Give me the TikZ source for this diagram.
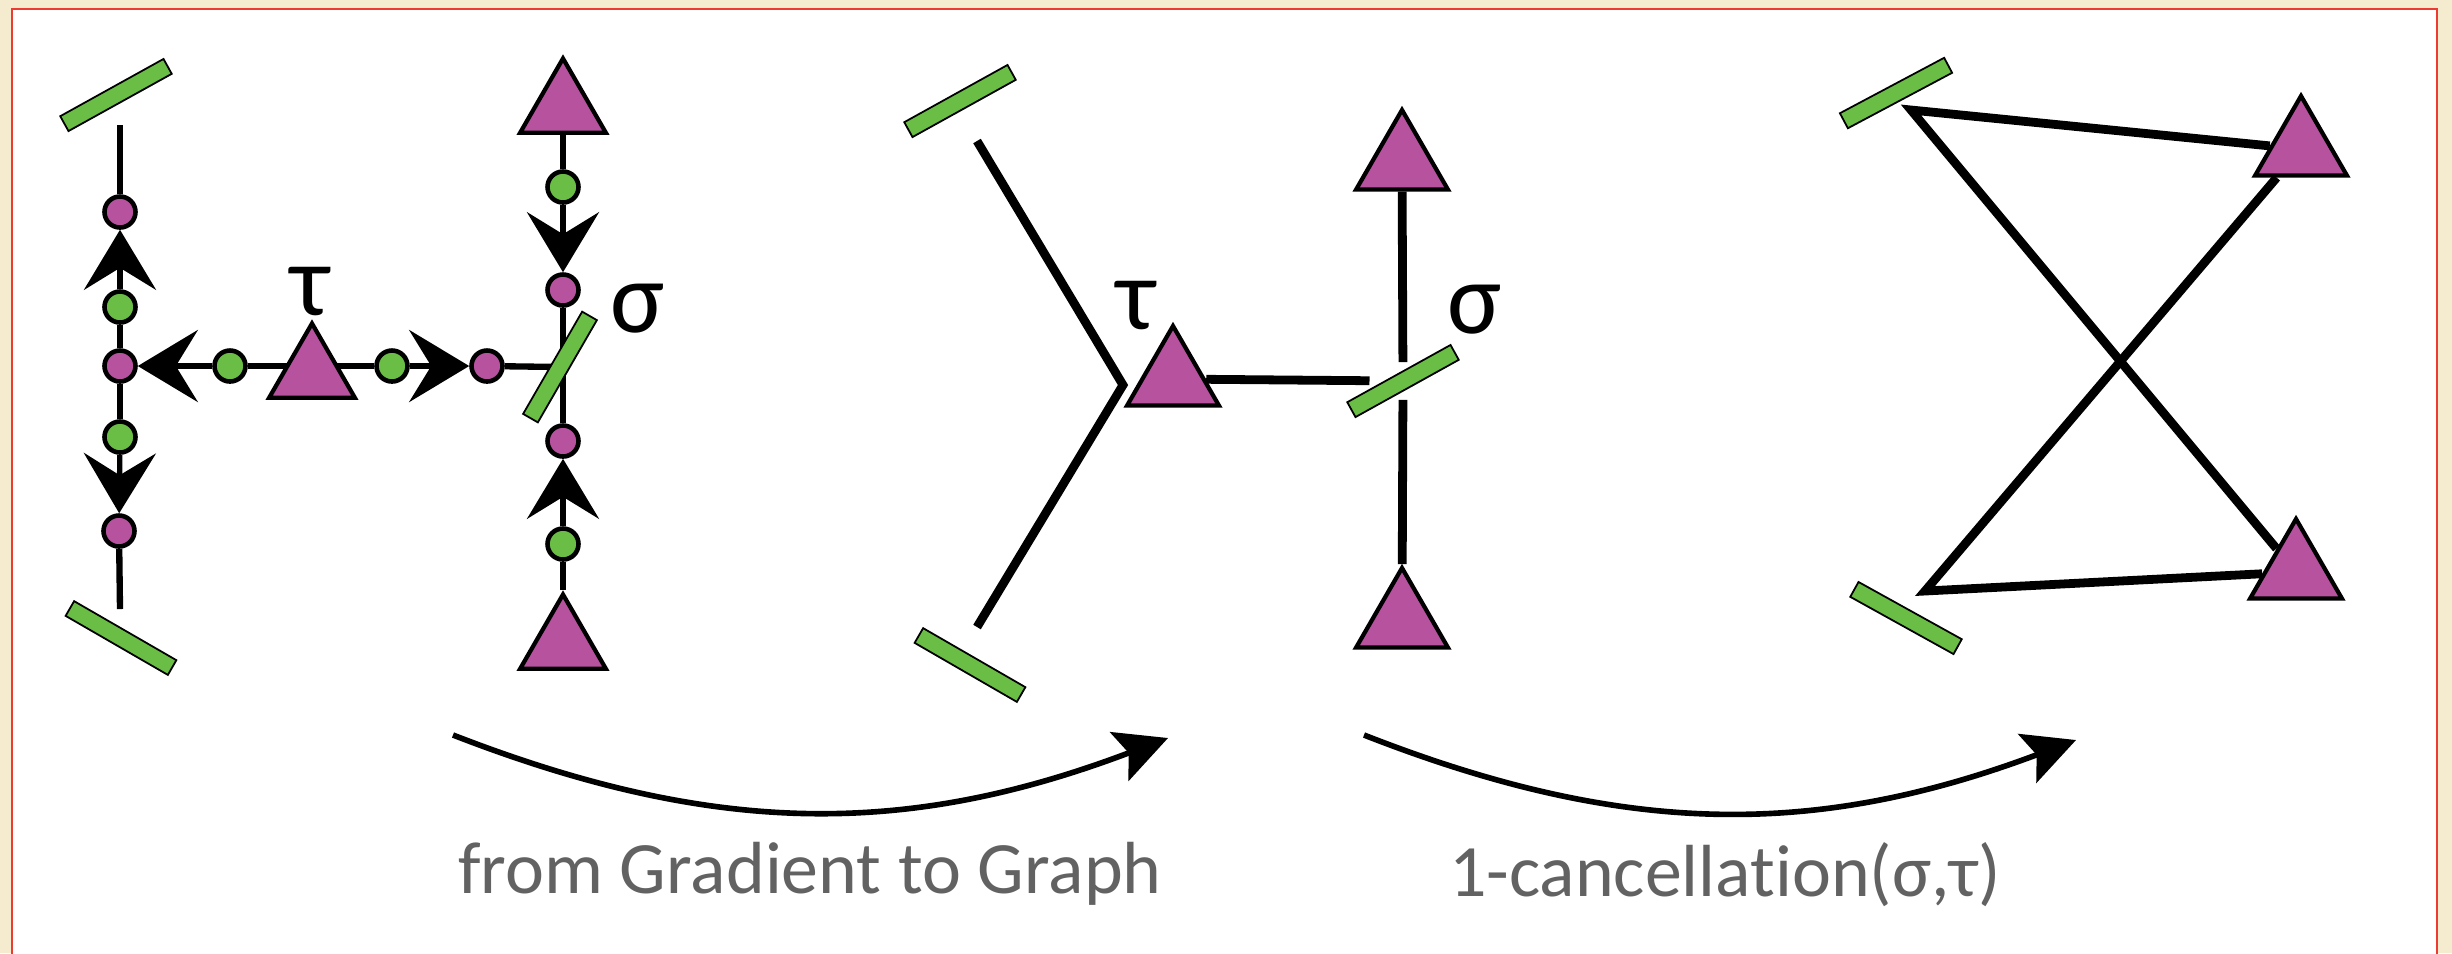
\documentclass[tikz,border=0pt]{standalone}
\usepackage{fontspec}
\setmainfont{Carlito}[Ligatures=NoCommon]
\usetikzlibrary{arrows.meta, shapes.geometric, backgrounds}
\definecolor{critgreen}{RGB}{106,189,69}
\definecolor{critpink}{RGB}{182,82,158}
\definecolor{paper}{RGB}{245,236,207}
\definecolor{framered}{RGB}{236,60,50}
\definecolor{capgray}{RGB}{98,98,98}
\tikzstyle{link}=[line width=1.8pt]
\tikzstyle{glink}=[line width=2.5pt]
\tikzstyle{grad}=[line width=1.5pt, -{Stealth[length=0.6cm, width=0.72cm, inset=0.22cm]}]
\tikzstyle{move}=[line width=1.6pt, -{Stealth[length=0.52cm, width=0.52cm, inset=0.1cm]}]
\tikzstyle{saddle}=[rectangle, fill=critgreen, draw=black, line width=0.5pt, minimum width=1.18cm, minimum height=0.17cm, inner sep=0pt]
\tikzstyle{maxi}=[regular polygon, regular polygon sides=3, fill=critpink, draw=black, line width=1.2pt, inner sep=0pt, minimum size=0.99cm]
\tikzstyle{bigmaxi}=[maxi, minimum size=1.06cm]
\tikzstyle{vdot}=[circle, fill=critpink, draw=black, line width=1.3pt, minimum size=0.31cm, inner sep=0pt]
\tikzstyle{edot}=[circle, fill=critgreen, draw=black, line width=1.3pt, minimum size=0.31cm, inner sep=0pt]
\tikzstyle{cell}=[inner sep=0pt, font=\fontsize{29}{29}\selectfont]
\tikzstyle{captext}=[inner sep=0pt, anchor=base, text=capgray, font=\fontsize{21}{21}\selectfont]

\begin{document}
\begin{tikzpicture}[x=0.01cm, y=-0.01cm]
	\useasboundingbox (0,0) rectangle (2452,953);
	\begin{scope}[on background layer]
		\fill[paper] (0,0) rectangle (2452,953);
		\filldraw[fill=white, draw=framered, line width=0.6pt] (12,9) rectangle (2437,990);
	\end{scope}
	\foreach \n/\x/\y in {m1/120/212, m2/120/366, m3/119/531, m4/487/366, m5/563/290, m6/563/441}{
		\node[vdot] (\n) at (\x,\y) {};
	}
	\foreach \n/\x/\y in {g1/120/307, g2/120/437, g3/230/366, g4/392/366, g5/563/187, g6/563/544}{
		\node[edot] (\n) at (\x,\y) {};
	}
	\node[saddle, rotate=29] (s1) at (116,95) {};
	\node[saddle, rotate=-30] (s2) at (121,638) {};
	\node[saddle, rotate=60] (s3) at (560,367) {};
	\node[maxi] (t1) at (312,373) {};
	\node[maxi] (t2) at (563,108) {};
	\node[maxi] (t3) at (563,644) {};
	\coordinate (v1) at (120,125);
	\coordinate (v2) at (120,609);
	\node[cell] (tau1) at (310,292) {τ};
	\node[cell] (sigma1) at (638,309) {σ};

	\node[saddle, rotate=29] (s4) at (960,101) {};
	\node[saddle, rotate=-30] (s5) at (970,665) {};
	\node[saddle, rotate=29, outer sep=0.08cm] (s6) at (1403,381) {};
	\node[bigmaxi] (t4) at (1173,379) {};
	\node[bigmaxi] (t5) at (1402,163) {};
	\node[bigmaxi] (t6) at (1402,621) {};
	\coordinate (w1) at (977,141);
	\coordinate (w2) at (1123,385);
	\coordinate (w3) at (977,627);
	\node[cell] (tau2) at (1136,306) {τ};
	\node[cell] (sigma2) at (1475,310) {σ};

	\node[saddle, rotate=28] (s7) at (1896,93) {};
	\node[saddle, rotate=-29] (s8) at (1906,618) {};
	\node[bigmaxi] (t7) at (2301,149) {};
	\node[bigmaxi] (t8) at (2296,572) {};
	\coordinate (u1) at (1911,110);
	\coordinate (u2) at (1925,591);

	\coordinate (a1) at (453,735);
	\coordinate (a2) at (1168,738);
	\coordinate (a3) at (1364,735);
	\coordinate (a4) at (2076,740);
	\node[captext] (cap1) at (810,893) {from Gradient to Graph};
	\node[captext] (cap2) at (1725,896) {1-cancellation(σ,τ)};

	\begin{scope}[on background layer]
		\draw[link] (v1) -- (m1);
		\draw[link] (g1) -- (m2) -- (g2);
		\draw[link] (m3) -- (v2);
		\draw[link] (g3) -- (g4);
		\draw[link] (m4) -- (s3.center);
		\draw[link] (t2) -- (g5);
		\draw[link] (m5) -- (m6);
		\draw[link] (g6) -- (t3);
		\draw[glink] (w1) -- (w2) -- (w3);
		\draw[glink] (t4) -- (s6);
		\draw[glink] (t5) -- (s6) -- (t6);
		\draw[glink] (t7) -- (u1) -- (t8);
		\draw[glink] (t7) -- (u2) -- (t8);
	\end{scope}
	\draw[grad] (g1) -- (m1);
	\draw[grad] (g2) -- (m3);
	\draw[grad] (g3) -- (m2);
	\draw[grad] (g4) -- (m4);
	\draw[grad] (g5) -- (m5);
	\draw[grad] (g6) -- (m6);
	\draw[move] (a1) to[bend right=21] (a2);
	\draw[move] (a3) to[bend right=21] (a4);
\end{tikzpicture}
\end{document}
